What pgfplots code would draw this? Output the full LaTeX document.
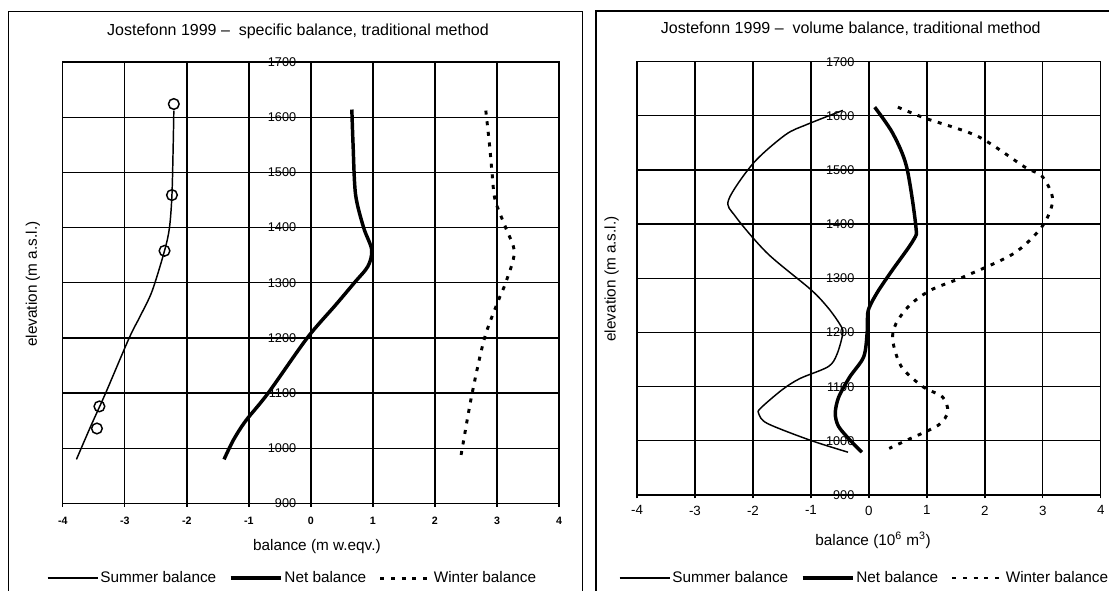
\documentclass[border=0pt]{standalone}
\usepackage{pgfplots}
\pgfplotsset{compat=1.18}
\usepackage{fontspec}
\setmainfont{Liberation Sans}
\pgfplotsset{legend image code/.code={\draw[#1] (0pt,0pt) -- (37.5pt,0pt);}}
\pgfplotsset{common/.style={
  scale only axis, xmin=-4, xmax=4, ymin=900, ymax=1700,
  xtick={-4,-3,-2,-1,0,1,2,3,4}, ytick={900,1000,1100,1200,1300,1400,1500,1600,1700},
  grid=major, grid style={black, line width=1pt},
  axis line style={line width=1pt},
  xtick pos=bottom, tick align=outside, major tick length=2.5pt,
  tick style={black, line width=1pt},
  ytick style={draw=none},
  /pgf/number format/assume math mode=true,
  /pgf/number format/set thousands separator={},
  every axis title shift=0pt,
  legend columns=3,
  legend style={draw=none, fill=none, font=\fontsize{11.5}{13}\selectfont,
    /tikz/every even column/.append style={column sep=8pt}, nodes={inner sep=1.5pt}},
  label style={font=\fontsize{11.5}{13}\selectfont},
  title style={font=\fontsize{12}{14}\selectfont},
}}
\begin{document}
\begin{tikzpicture}
\path[use as bounding box] (0pt,0pt) rectangle (831.75pt,443.25pt);
\draw[line width=1pt] (6.2pt,0pt) -- (6.2pt,434.6pt) -- (437pt,434.6pt) -- (437pt,0pt);
\draw[line width=1pt] (447pt,0pt) -- (447pt,435pt) -- (831.75pt,435pt);

\begin{axis}[common, at={(47.1pt,65.6pt)}, anchor=south west, width=372.15pt, height=331.1pt,
  title={Jostefonn 1999 – \ specific balance, traditional method},
  title style={at={(axis description cs:0.474,1.0686)}, anchor=center},
  xlabel={balance (m w.eqv.)},
  xlabel style={at={(axis description cs:0.512,-0.0985)}, anchor=center},
  ylabel={elevation (m a.s.l.)},
  ylabel style={at={(axis description cs:-0.060,0.497)}, anchor=center},
  yticklabel style={xshift=181pt, font=\fontsize{9.5}{11}\selectfont},
  xticklabel style={yshift=-4pt, font=\bfseries\fontsize{8}{10}\selectfont},
  legend style={at={(axis description cs:0.463,-0.169)}, anchor=center},
]
\draw[black, line width=1.8pt] (axis cs:0,900) -- (axis cs:0,1700);
\addplot[black, line width=1.1pt, smooth] coordinates {
(-2.21,1612) (-2.22,1550) (-2.24,1460) (-2.28,1400) (-2.36,1358) (-2.56,1285) (-2.75,1240) (-2.93,1200) (-3.31,1100) (-3.55,1040) (-3.78,980)};
\addlegendentry{Summer balance}
\addplot[black, line width=2.6pt, smooth] coordinates {
(0.66,1614) (0.68,1550) (0.72,1460) (0.85,1400) (0.98,1360) (0.92,1330) (0.70,1300) (0.40,1260) (-0.06,1200) (-0.69,1100) (-1.05,1050) (-1.25,1015) (-1.40,980)};
\addlegendentry{Net balance}
\addplot[black, line width=2.2pt, dash pattern=on 3pt off 5pt, smooth] coordinates {
(2.82,1612) (2.88,1550) (2.92,1500) (2.97,1450) (3.14,1400) (3.28,1355) (3.14,1300) (3.03,1270) (2.80,1200) (2.60,1100) (2.44,1000) (2.41,980)};
\addlegendentry{Winter balance}
\addplot[only marks, mark=o, mark size=4pt, mark options={line width=1.1pt, black}, forget plot] coordinates {
(-2.21,1624) (-2.24,1459) (-2.36,1358) (-3.41,1076) (-3.45,1036)};
\end{axis}

\begin{axis}[common, at={(477.75pt,72pt)}, anchor=south west, width=347.85pt, height=325pt,
  title={Jostefonn 1999 – \ volume balance, traditional method},
  title style={at={(axis description cs:0.461,1.077)}, anchor=center},
  xlabel={balance (10\textsuperscript{6} m\textsuperscript{3})},
  xlabel style={at={(axis description cs:0.509,-0.1039)}, anchor=center},
  ylabel={elevation (m a.s.l.)},
  ylabel style={at={(axis description cs:-0.0545,0.4985)}, anchor=center},
  yticklabel style={xshift=169pt, font=\fontsize{9.5}{11}\selectfont},
  xticklabel style={yshift=-2pt, font=\fontsize{10}{12}\selectfont},
  legend style={at={(axis description cs:0.4905,-0.1916)}, anchor=center},
]
\draw[black, line width=1.8pt] (axis cs:0,900) -- (axis cs:0,1700);
\addplot[black, line width=1.1pt, smooth] coordinates {
(-0.45,1610) (-1.07,1584) (-1.44,1565) (-1.99,1513) (-2.42,1445) (-2.30,1414) (-1.75,1346) (-1.0,1279) (-0.70,1245) (-0.50,1215) (-0.45,1199) (-0.55,1160) (-0.70,1137) (-1.19,1115) (-1.50,1094) (-1.87,1060) (-1.90,1050) (-1.75,1032) (-1.01,1001) (-0.36,979)};
\addlegendentry{Summer balance}
\addplot[black, line width=2.6pt, smooth] coordinates {
(0.10,1616) (0.41,1568) (0.65,1506) (0.81,1396) (0.77,1371) (0.41,1316) (0.18,1280) (0.04,1254) (-0.02,1236) (-0.03,1200) (-0.09,1155) (-0.33,1118) (-0.52,1081) (-0.58,1051) (-0.52,1026) (-0.27,995) (-0.12,979)};
\addlegendentry{Net balance}
\addplot[black, line width=2.2pt, dash pattern=on 3pt off 5pt, smooth] coordinates {
(0.50,1616) (0.96,1596) (1.88,1562) (2.68,1506) (2.99,1488) (3.17,1445) (2.99,1396) (2.50,1346) (1.64,1303) (1.08,1279) (0.71,1251) (0.47,1217) (0.41,1186) (0.56,1137) (0.93,1100) (1.27,1081) (1.36,1054) (1.20,1029) (0.65,1001) (0.35,986)};
\addlegendentry{Winter balance}
\end{axis}
\end{tikzpicture}
\end{document}
